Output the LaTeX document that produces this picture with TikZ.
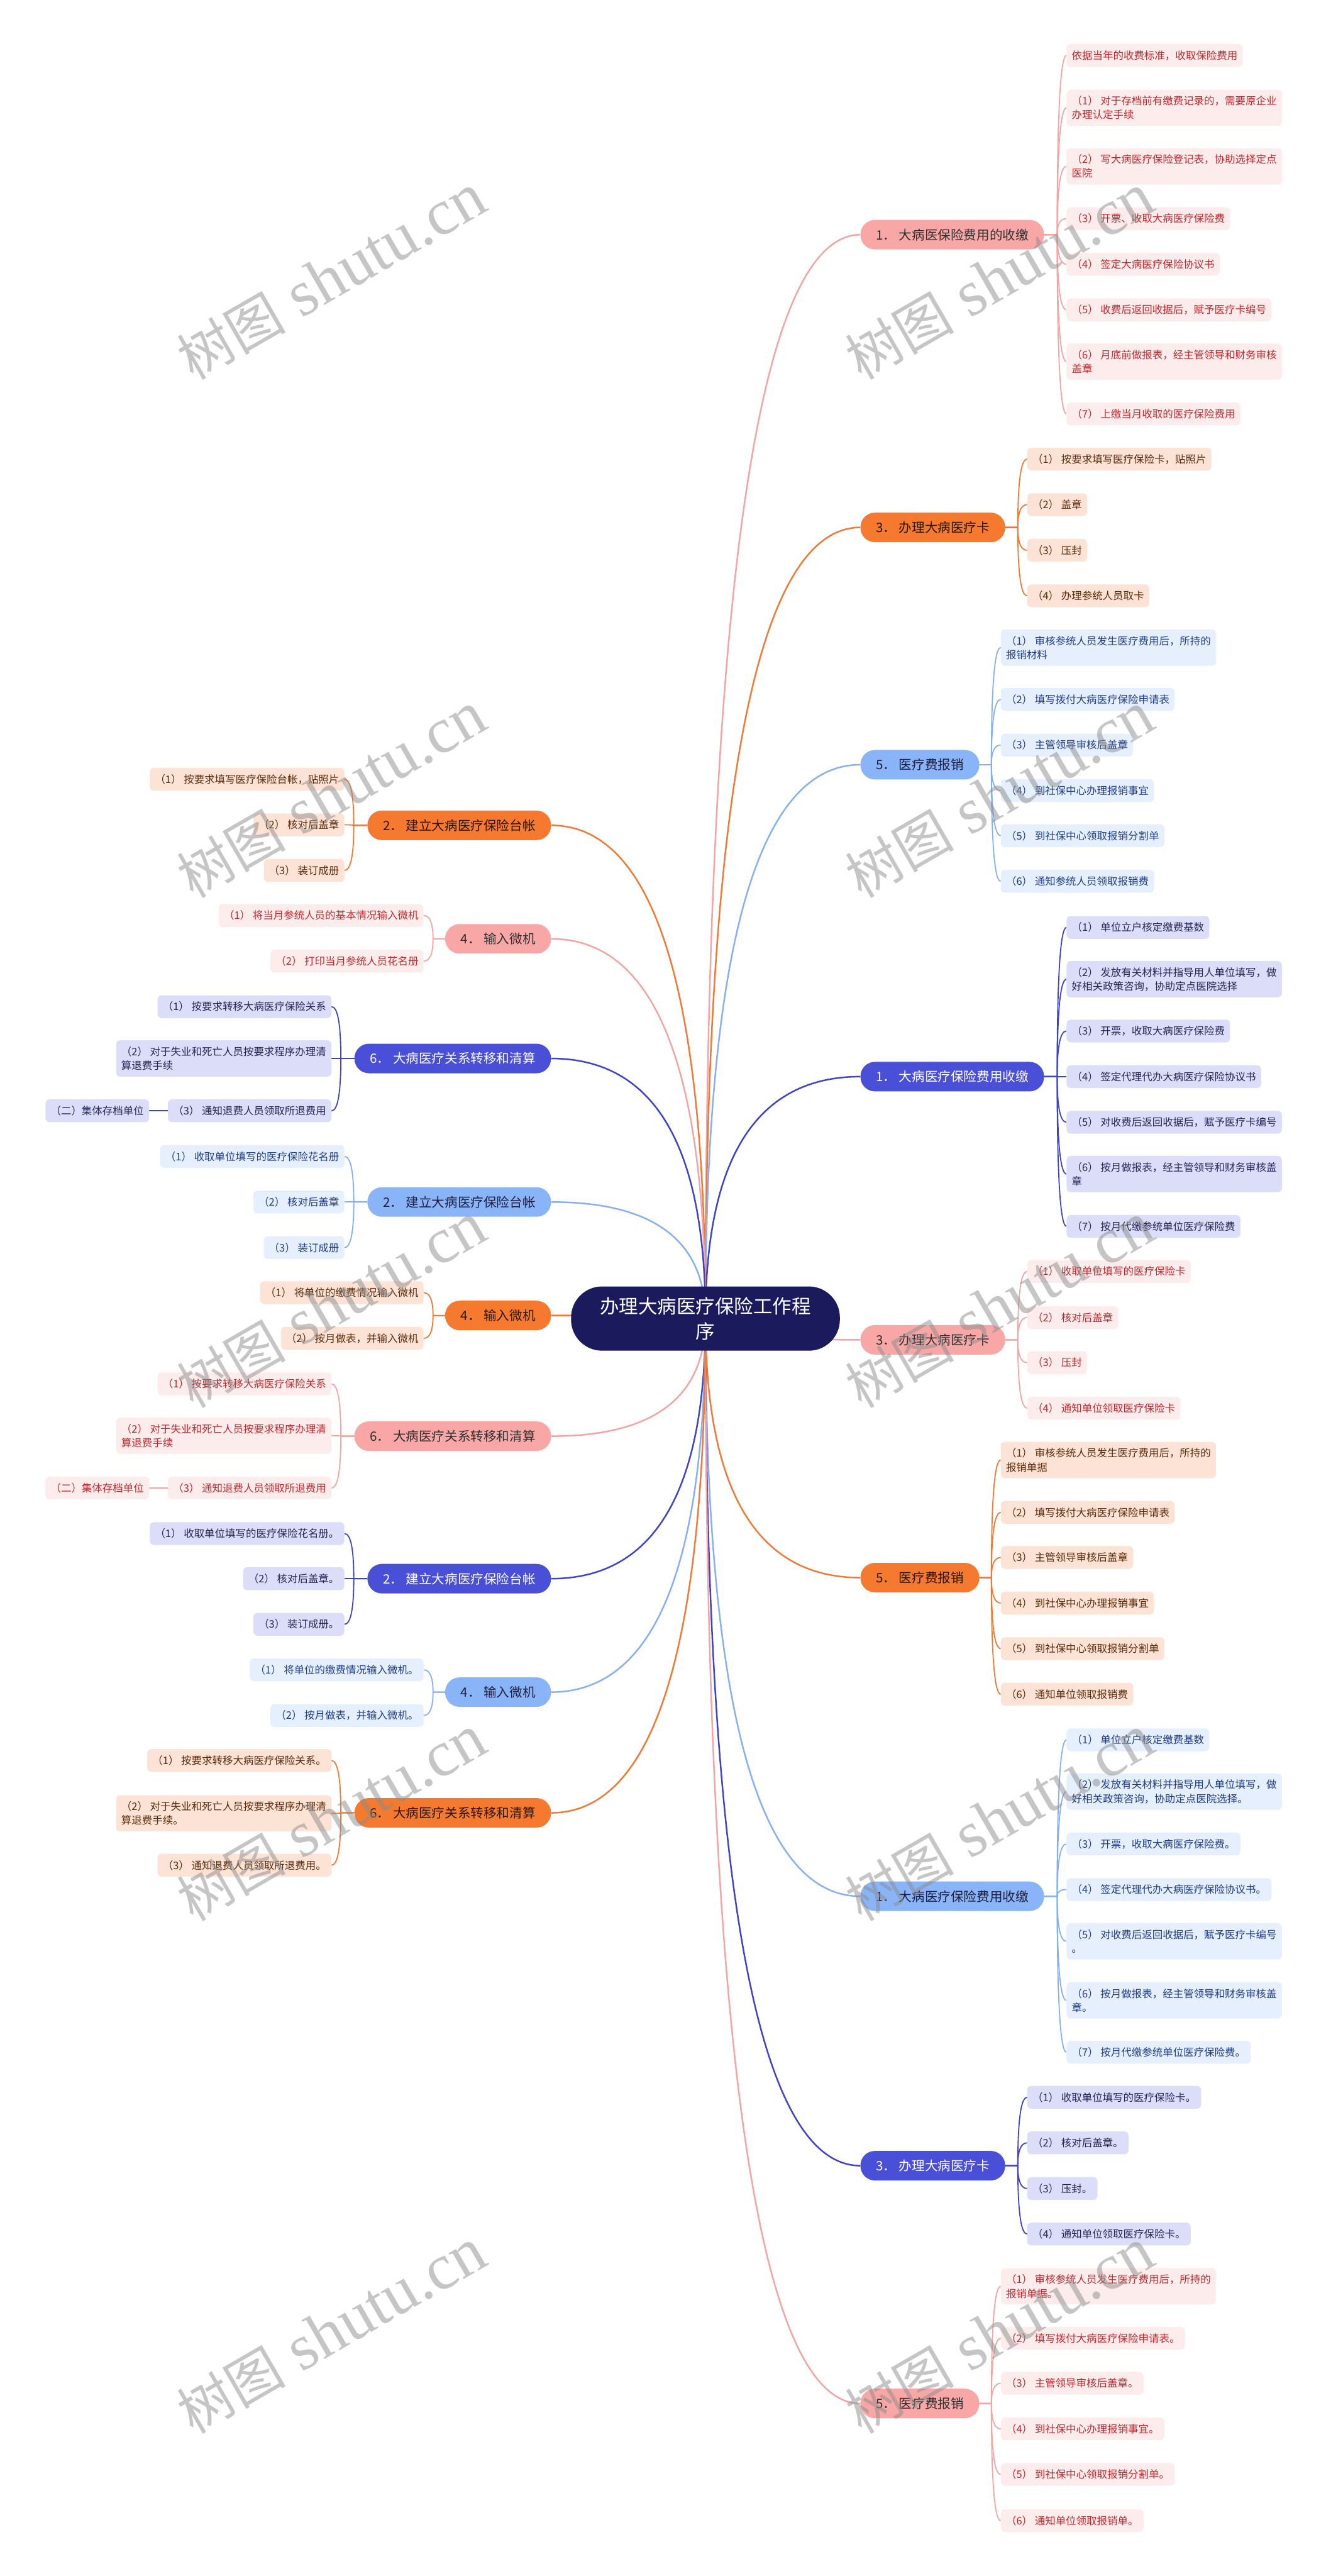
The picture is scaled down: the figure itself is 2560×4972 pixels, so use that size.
\documentclass[tikz,border=0pt]{standalone}
\usepackage{fontspec}
\setmainfont{Noto Sans CJK SC}
\newfontfamily\wmlat{Liberation Serif}
\usetikzlibrary{calc}
\pgfdeclarelayer{bg}
\pgfsetlayers{bg,main}
\definecolor{pkN}{HTML}{F8A7A6}\definecolor{pkNT}{HTML}{2E2E2E}\definecolor{pkF}{HTML}{FDECEC}\definecolor{pkT}{HTML}{C0282E}\definecolor{pkLine}{HTML}{F3A5A5}
\definecolor{orN}{HTML}{F5792E}\definecolor{orNT}{HTML}{2A1508}\definecolor{orF}{HTML}{FDE3D5}\definecolor{orT}{HTML}{5A2A0A}\definecolor{orLine}{HTML}{F07A35}
\definecolor{lbN}{HTML}{8AB4F8}\definecolor{lbNT}{HTML}{1E1E40}\definecolor{lbF}{HTML}{E6EFFD}\definecolor{lbT}{HTML}{1F3C8A}\definecolor{lbLine}{HTML}{88B0F0}
\definecolor{dbN}{HTML}{4A4FD8}\definecolor{dbNT}{HTML}{FFFFFF}\definecolor{dbF}{HTML}{DCDDF8}\definecolor{dbT}{HTML}{25255A}\definecolor{dbLine}{HTML}{3F43C6}
\definecolor{cN}{HTML}{1B1A5C}
\tikzset{
  bn/.style={rounded corners=28pt, minimum height=57pt, inner xsep=30pt, inner ysep=0pt, font=\fontsize{25pt}{30pt}\selectfont},
  ln/.style={rounded corners=8pt, minimum height=44pt, inner xsep=10pt, inner ysep=0pt, align=left, font=\fontsize{20pt}{27pt}\selectfont},
  tall/.style={minimum height=70pt},
  pkB/.style={bn, fill=pkN, text=pkNT}, pkL/.style={ln, fill=pkF, text=pkT},
  orB/.style={bn, fill=orN, text=orNT}, orL/.style={ln, fill=orF, text=orT},
  lbB/.style={bn, fill=lbN, text=lbNT}, lbL/.style={ln, fill=lbF, text=lbT},
  dbB/.style={bn, fill=dbN, text=dbNT}, dbL/.style={ln, fill=dbF, text=dbT},
  pkM/.style={draw=pkLine, line width=3pt}, pkC/.style={draw=pkLine, line width=2.2pt},
  orM/.style={draw=orLine, line width=3pt}, orC/.style={draw=orLine, line width=2.2pt},
  lbM/.style={draw=lbLine, line width=3pt}, lbC/.style={draw=lbLine, line width=2.2pt},
  dbM/.style={draw=dbLine, line width=3pt}, dbC/.style={draw=dbLine, line width=2.2pt},
  wm/.style={rotate=30, text=black!45, text opacity=0.5, inner sep=0pt}
}
\newcommand\mcR[3]{\draw[#3] (#1.center) .. controls ($(#1.center)!0.667!(#1.center |- #2.west)$) and ($(#2.west)!0.667!(#1.center |- #2.west)$) .. (#2.west);}
\newcommand\mcL[3]{\draw[#3] (#1.center) .. controls ($(#1.center)!0.667!(#1.center |- #2.east)$) and ($(#2.east)!0.667!(#1.center |- #2.east)$) .. (#2.east);}
\newcommand\rcon[3]{\path (#1.east -| #2.west) ++(-18,0) coordinate (sp);
  \draw[#3] (#1.east) -- (sp) .. controls ($(sp)!0.667!(sp |- #2.west)$) and ($(#2.west)!0.667!(sp |- #2.west)$) .. (#2.west);}
\newcommand\lcon[3]{\path (#1.west -| #2.east) ++(18,0) coordinate (sp);
  \draw[#3] (#1.west) -- (sp) .. controls ($(sp)!0.667!(sp |- #2.east)$) and ($(#2.east)!0.667!(sp |- #2.east)$) .. (#2.east);}
\begin{document}
\begin{tikzpicture}[x=1pt,y=-1pt]
\useasboundingbox (0,0) rectangle (2560,4972);
\begin{pgfonlayer}{bg}
\fill[white] (0,0) rectangle (2560,4972);
\end{pgfonlayer}
% center
\node[fill=cN, text=white, rounded corners=60pt, minimum width=519pt, minimum height=124pt, align=center, inner sep=0pt, font=\fontsize{37pt}{48pt}\selectfont] (C) at (1362,2545) {办理大病医疗保险工作程\\序};
% right branches
\node[pkB, anchor=west] (R1) at (1661,453) {1． 大病医保险费用的收缴};
\node[orB, anchor=west] (R2) at (1661,1018) {3． 办理大病医疗卡};
\node[lbB, anchor=west] (R3) at (1661,1476) {5． 医疗费报销};
\node[dbB, anchor=west] (R4) at (1661,2078) {1． 大病医疗保险费用收缴};
\node[pkB, anchor=west] (R5) at (1661,2586) {3． 办理大病医疗卡};
\node[orB, anchor=west] (R6) at (1661,3045) {5． 医疗费报销};
\node[lbB, anchor=west] (R7) at (1661,3660) {1． 大病医疗保险费用收缴};
\node[dbB, anchor=west] (R8) at (1661,4180) {3． 办理大病医疗卡};
\node[pkB, anchor=west] (R9) at (1661,4639) {5． 医疗费报销};
% left branches
\node[orB, anchor=east] (LA) at (1064,1593) {2． 建立大病医疗保险台帐};
\node[pkB, anchor=east] (LB) at (1064,1812) {4． 输入微机};
\node[dbB, anchor=east] (LC) at (1064,2043) {6． 大病医疗关系转移和清算};
\node[lbB, anchor=east] (LD) at (1064,2320) {2． 建立大病医疗保险台帐};
\node[orB, anchor=east] (LE) at (1064,2539) {4． 输入微机};
\node[pkB, anchor=east] (LF) at (1064,2772) {6． 大病医疗关系转移和清算};
\node[dbB, anchor=east] (LG) at (1064,3047) {2． 建立大病医疗保险台帐};
\node[lbB, anchor=east] (LH) at (1064,3266) {4． 输入微机};
\node[orB, anchor=east] (LI) at (1064,3499) {6． 大病医疗关系转移和清算};
% R1 leaves
\node[pkL, anchor=west] (r1a) at (2059,107) {依据当年的收费标准，收取保险费用};
\node[pkL, tall, anchor=west] (r1b) at (2059,208) {（1） 对于存档前有缴费记录的，需要原企业\\办理认定手续};
\node[pkL, tall, anchor=west] (r1c) at (2059,321) {（2） 写大病医疗保险登记表，协助选择定点\\医院};
\node[pkL, anchor=west] (r1d) at (2059,422) {（3） 开票、收取大病医疗保险费};
\node[pkL, anchor=west] (r1e) at (2059,510) {（4） 签定大病医疗保险协议书};
\node[pkL, anchor=west] (r1f) at (2059,598) {（5） 收费后返回收据后，赋予医疗卡编号};
\node[pkL, tall, anchor=west] (r1g) at (2059,698) {（6） 月底前做报表，经主管领导和财务审核\\盖章};
\node[pkL, anchor=west] (r1h) at (2059,799) {（7） 上缴当月收取的医疗保险费用};
% R2 leaves
\node[orL, anchor=west] (r2a) at (1983,886) {（1） 按要求填写医疗保险卡，贴照片};
\node[orL, anchor=west] (r2b) at (1983,974) {（2） 盖章};
\node[orL, anchor=west] (r2c) at (1983,1062) {（3） 压封};
\node[orL, anchor=west] (r2d) at (1983,1150) {（4） 办理参统人员取卡};
% R3 leaves
\node[lbL, tall, anchor=west] (r3a) at (1932,1250) {（1） 审核参统人员发生医疗费用后，所持的\\报销材料};
\node[lbL, anchor=west] (r3b) at (1932,1350) {（2） 填写拨付大病医疗保险申请表};
\node[lbL, anchor=west] (r3c) at (1932,1438) {（3） 主管领导审核后盖章};
\node[lbL, anchor=west] (r3d) at (1932,1526) {（4） 到社保中心办理报销事宜};
\node[lbL, anchor=west] (r3e) at (1932,1613) {（5） 到社保中心领取报销分割单};
\node[lbL, anchor=west] (r3f) at (1932,1701) {（6） 通知参统人员领取报销费};
% R4 leaves
\node[dbL, anchor=west] (r4a) at (2059,1790) {（1） 单位立户核定缴费基数};
\node[dbL, tall, anchor=west] (r4b) at (2059,1890) {（2） 发放有关材料并指导用人单位填写，做\\好相关政策咨询，协助定点医院选择};
\node[dbL, anchor=west] (r4c) at (2059,1990) {（3） 开票，收取大病医疗保险费};
\node[dbL, anchor=west] (r4d) at (2059,2078) {（4） 签定代理代办大病医疗保险协议书};
\node[dbL, anchor=west] (r4e) at (2059,2166) {（5） 对收费后返回收据后，赋予医疗卡编号};
\node[dbL, tall, anchor=west] (r4f) at (2059,2266) {（6） 按月做报表，经主管领导和财务审核盖\\章};
\node[dbL, anchor=west] (r4g) at (2059,2367) {（7） 按月代缴参统单位医疗保险费};
% R5 leaves
\node[pkL, anchor=west] (r5a) at (1983,2454) {（1） 收取单位填写的医疗保险卡};
\node[pkL, anchor=west] (r5b) at (1983,2543) {（2） 核对后盖章};
\node[pkL, anchor=west] (r5c) at (1983,2630) {（3） 压封};
\node[pkL, anchor=west] (r5d) at (1983,2718) {（4） 通知单位领取医疗保险卡};
% R6 leaves
\node[orL, tall, anchor=west] (r6a) at (1932,2818) {（1） 审核参统人员发生医疗费用后，所持的\\报销单据};
\node[orL, anchor=west] (r6b) at (1932,2919) {（2） 填写拨付大病医疗保险申请表};
\node[orL, anchor=west] (r6c) at (1932,3006) {（3） 主管领导审核后盖章};
\node[orL, anchor=west] (r6d) at (1932,3094) {（4） 到社保中心办理报销事宜};
\node[orL, anchor=west] (r6e) at (1932,3182) {（5） 到社保中心领取报销分割单};
\node[orL, anchor=west] (r6f) at (1932,3270) {（6） 通知单位领取报销费};
% R7 leaves
\node[lbL, anchor=west] (r7a) at (2059,3358) {（1） 单位立户核定缴费基数};
\node[lbL, tall, anchor=west] (r7b) at (2059,3458) {（2） 发放有关材料并指导用人单位填写，做\\好相关政策咨询，协助定点医院选择。};
\node[lbL, anchor=west] (r7c) at (2059,3559) {（3） 开票，收取大病医疗保险费。};
\node[lbL, anchor=west] (r7d) at (2059,3647) {（4） 签定代理代办大病医疗保险协议书。};
\node[lbL, tall, anchor=west] (r7e) at (2059,3747) {（5） 对收费后返回收据后，赋予医疗卡编号\\。};
\node[lbL, tall, anchor=west] (r7f) at (2059,3861) {（6） 按月做报表，经主管领导和财务审核盖\\章。};
\node[lbL, anchor=west] (r7g) at (2059,3961) {（7） 按月代缴参统单位医疗保险费。};
% R8 leaves
\node[dbL, anchor=west] (r8a) at (1983,4048) {（1） 收取单位填写的医疗保险卡。};
\node[dbL, anchor=west] (r8b) at (1983,4136) {（2） 核对后盖章。};
\node[dbL, anchor=west] (r8c) at (1983,4224) {（3） 压封。};
\node[dbL, anchor=west] (r8d) at (1983,4312) {（4） 通知单位领取医疗保险卡。};
% R9 leaves
\node[pkL, tall, anchor=west] (r9a) at (1932,4413) {（1） 审核参统人员发生医疗费用后，所持的\\报销单据。};
\node[pkL, anchor=west] (r9b) at (1932,4513) {（2） 填写拨付大病医疗保险申请表。};
\node[pkL, anchor=west] (r9c) at (1932,4600) {（3） 主管领导审核后盖章。};
\node[pkL, anchor=west] (r9d) at (1932,4688) {（4） 到社保中心办理报销事宜。};
\node[pkL, anchor=west] (r9e) at (1932,4776) {（5） 到社保中心领取报销分割单。};
\node[pkL, anchor=west] (r9f) at (1932,4865) {（6） 通知单位领取报销单。};
% LA leaves
\node[orL, anchor=east] (la1) at (665,1504) {（1） 按要求填写医疗保险台帐，贴照片};
\node[orL, anchor=east] (la2) at (665,1592) {（2） 核对后盖章};
\node[orL, anchor=east] (la3) at (665,1680) {（3） 装订成册};
% LB leaves
\node[pkL, anchor=east] (lb1) at (818,1767) {（1） 将当月参统人员的基本情况输入微机};
\node[pkL, anchor=east] (lb2) at (818,1855) {（2） 打印当月参统人员花名册};
% LC leaves
\node[dbL, anchor=east] (lc1) at (640,1943) {（1） 按要求转移大病医疗保险关系};
\node[dbL, tall, anchor=east] (lc2) at (640,2043) {（2） 对于失业和死亡人员按要求程序办理清\\算退费手续};
\node[dbL, anchor=east] (lc3) at (640,2144) {（3） 通知退费人员领取所退费用};
\node[dbL, anchor=east] (lc4) at (288,2144) {（二）集体存档单位};
% LD leaves
\node[lbL, anchor=east] (ld1) at (665,2232) {（1） 收取单位填写的医疗保险花名册};
\node[lbL, anchor=east] (ld2) at (665,2320) {（2） 核对后盖章};
\node[lbL, anchor=east] (ld3) at (665,2408) {（3） 装订成册};
% LE leaves
\node[orL, anchor=east] (le1) at (818,2495) {（1） 将单位的缴费情况输入微机};
\node[orL, anchor=east] (le2) at (818,2583) {（2） 按月做表，并输入微机};
% LF leaves
\node[pkL, anchor=east] (lf1) at (640,2671) {（1） 按要求转移大病医疗保险关系};
\node[pkL, tall, anchor=east] (lf2) at (640,2771) {（2） 对于失业和死亡人员按要求程序办理清\\算退费手续};
\node[pkL, anchor=east] (lf3) at (640,2872) {（3） 通知退费人员领取所退费用};
\node[pkL, anchor=east] (lf4) at (288,2872) {（二）集体存档单位};
% LG leaves
\node[dbL, anchor=east] (lg1) at (665,2960) {（1） 收取单位填写的医疗保险花名册。};
\node[dbL, anchor=east] (lg2) at (665,3047) {（2） 核对后盖章。};
\node[dbL, anchor=east] (lg3) at (665,3135) {（3） 装订成册。};
% LH leaves
\node[lbL, anchor=east] (lh1) at (818,3223) {（1） 将单位的缴费情况输入微机。};
\node[lbL, anchor=east] (lh2) at (818,3311) {（2） 按月做表，并输入微机。};
% LI leaves
\node[orL, anchor=east] (li1) at (640,3398) {（1） 按要求转移大病医疗保险关系。};
\node[orL, tall, anchor=east] (li2) at (640,3500) {（2） 对于失业和死亡人员按要求程序办理清\\算退费手续。};
\node[orL, anchor=east] (li3) at (640,3600) {（3） 通知退费人员领取所退费用。};
% connectors
\begin{pgfonlayer}{bg}
\mcR{C}{R1}{pkM}\mcR{C}{R2}{orM}\mcR{C}{R3}{lbM}\mcR{C}{R4}{dbM}\mcR{C}{R5}{pkM}
\mcR{C}{R6}{orM}\mcR{C}{R7}{lbM}\mcR{C}{R8}{dbM}\mcR{C}{R9}{pkM}
\mcL{C}{LA}{orM}\mcL{C}{LB}{pkM}\mcL{C}{LC}{dbM}\mcL{C}{LD}{lbM}\mcL{C}{LE}{orM}
\mcL{C}{LF}{pkM}\mcL{C}{LG}{dbM}\mcL{C}{LH}{lbM}\mcL{C}{LI}{orM}
\foreach \l in {r1a,r1b,r1c,r1d,r1e,r1f,r1g,r1h} {\rcon{R1}{\l}{pkC}}
\foreach \l in {r2a,r2b,r2c,r2d} {\rcon{R2}{\l}{orC}}
\foreach \l in {r3a,r3b,r3c,r3d,r3e,r3f} {\rcon{R3}{\l}{lbC}}
\foreach \l in {r4a,r4b,r4c,r4d,r4e,r4f,r4g} {\rcon{R4}{\l}{dbC}}
\foreach \l in {r5a,r5b,r5c,r5d} {\rcon{R5}{\l}{pkC}}
\foreach \l in {r6a,r6b,r6c,r6d,r6e,r6f} {\rcon{R6}{\l}{orC}}
\foreach \l in {r7a,r7b,r7c,r7d,r7e,r7f,r7g} {\rcon{R7}{\l}{lbC}}
\foreach \l in {r8a,r8b,r8c,r8d} {\rcon{R8}{\l}{dbC}}
\foreach \l in {r9a,r9b,r9c,r9d,r9e,r9f} {\rcon{R9}{\l}{pkC}}
\foreach \l in {la1,la2,la3} {\lcon{LA}{\l}{orC}}
\foreach \l in {lb1,lb2} {\lcon{LB}{\l}{pkC}}
\foreach \l in {lc1,lc2,lc3} {\lcon{LC}{\l}{dbC}}
\foreach \l in {ld1,ld2,ld3} {\lcon{LD}{\l}{lbC}}
\foreach \l in {le1,le2} {\lcon{LE}{\l}{orC}}
\foreach \l in {lf1,lf2,lf3} {\lcon{LF}{\l}{pkC}}
\foreach \l in {lg1,lg2,lg3} {\lcon{LG}{\l}{dbC}}
\foreach \l in {lh1,lh2} {\lcon{LH}{\l}{lbC}}
\foreach \l in {li1,li2,li3} {\lcon{LI}{\l}{orC}}
\draw[dbC] (lc3.west) -- (lc4.east);
\draw[pkC] (lf3.west) -- (lf4.east);
\end{pgfonlayer}
% watermarks
\foreach \i/\x/\y in {1/640/535,2/1930/535,3/640/1535,4/1930/1535,5/640/2520,6/1930/2520,7/640/3510,8/1930/3510,9/640/4500,10/1930/4500}
  {\node[wm] (wm\i) at (\x,\y) {\fontsize{105pt}{105pt}\selectfont 树图\wmlat\fontsize{125pt}{125pt}\selectfont\ shutu.cn};}
\end{tikzpicture}
\end{document}
